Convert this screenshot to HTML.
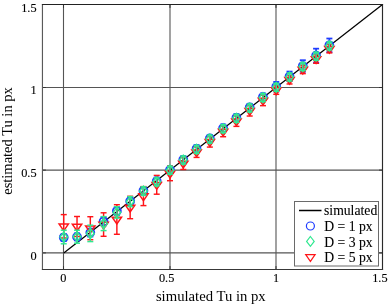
<!DOCTYPE html>
<html><head><meta charset="utf-8"><style>
html,body{margin:0;padding:0;background:#fff;overflow:hidden}
svg{display:block}
</style></head><body>
<svg width="388" height="304" viewBox="0 0 388 304" font-family="'Liberation Serif', 'Times New Roman', serif">
<rect width="388" height="304" fill="#fff"/>
<g stroke="#555555" stroke-width="1.1" fill="none"><line x1="63.5" y1="4.5" x2="63.5" y2="269.5"/><line x1="170" y1="4.5" x2="170" y2="269.5"/><line x1="276" y1="4.5" x2="276" y2="269.5"/><line x1="42.5" y1="252.9" x2="382.5" y2="252.9"/><line x1="42.5" y1="170.1" x2="382.5" y2="170.1"/><line x1="42.5" y1="87.5" x2="382.5" y2="87.5"/></g>
<g stroke="#333" stroke-width="1" fill="none"><line x1="63.5" y1="269.5" x2="63.5" y2="266.1"/><line x1="63.5" y1="4.5" x2="63.5" y2="7.9"/><line x1="170" y1="269.5" x2="170" y2="266.1"/><line x1="170" y1="4.5" x2="170" y2="7.9"/><line x1="276" y1="269.5" x2="276" y2="266.1"/><line x1="276" y1="4.5" x2="276" y2="7.9"/><line x1="382.5" y1="269.5" x2="382.5" y2="266.1"/><line x1="382.5" y1="4.5" x2="382.5" y2="7.9"/><line x1="42.5" y1="252.9" x2="45.9" y2="252.9"/><line x1="382.5" y1="252.9" x2="379.1" y2="252.9"/><line x1="42.5" y1="170.1" x2="45.9" y2="170.1"/><line x1="382.5" y1="170.1" x2="379.1" y2="170.1"/><line x1="42.5" y1="87.5" x2="45.9" y2="87.5"/><line x1="382.5" y1="87.5" x2="379.1" y2="87.5"/><line x1="42.5" y1="4.5" x2="45.9" y2="4.5"/><line x1="382.5" y1="4.5" x2="379.1" y2="4.5"/></g>
<line x1="63.75" y1="252.94" x2="382.5" y2="4.5" stroke="#000" stroke-width="1.25"/>
<g fill="none" stroke-width="1.45">
<g stroke="#1e3cff"><g stroke-width="1.75"><line x1="63.75" y1="234" x2="63.75" y2="241"/><line x1="60.75" y1="234" x2="66.75" y2="234"/><line x1="60.75" y1="241" x2="66.75" y2="241"/><circle cx="63.75" cy="237.5" r="4.0"/></g><g stroke-width="1.75"><line x1="77.03" y1="233.4" x2="77.03" y2="240.4"/><line x1="74.03" y1="233.4" x2="80.03" y2="233.4"/><line x1="74.03" y1="240.4" x2="80.03" y2="240.4"/><circle cx="77.03" cy="236.9" r="4.0"/></g><g stroke-width="1.75"><line x1="90.31" y1="228.6" x2="90.31" y2="236.6"/><line x1="87.31" y1="228.6" x2="93.31" y2="228.6"/><line x1="87.31" y1="236.6" x2="93.31" y2="236.6"/><circle cx="90.31" cy="232.6" r="4.0"/></g><g stroke-width="1.75"><line x1="103.59" y1="217.4" x2="103.59" y2="225.4"/><line x1="100.59" y1="217.4" x2="106.59" y2="217.4"/><line x1="100.59" y1="225.4" x2="106.59" y2="225.4"/><circle cx="103.59" cy="221.4" r="4.0"/></g><g stroke-width="1.75"><line x1="116.87" y1="207" x2="116.87" y2="215"/><line x1="113.87" y1="207" x2="119.87" y2="207"/><line x1="113.87" y1="215" x2="119.87" y2="215"/><circle cx="116.87" cy="211" r="4.0"/></g><g stroke-width="1.75"><line x1="130.16" y1="197.2" x2="130.16" y2="205.2"/><line x1="127.16" y1="197.2" x2="133.16" y2="197.2"/><line x1="127.16" y1="205.2" x2="133.16" y2="205.2"/><circle cx="130.16" cy="201.2" r="4.0"/></g><g stroke-width="1.75"><line x1="143.44" y1="187" x2="143.44" y2="194.6"/><line x1="140.44" y1="187" x2="146.44" y2="187"/><line x1="140.44" y1="194.6" x2="146.44" y2="194.6"/><circle cx="143.44" cy="190.8" r="4.0"/></g><g stroke-width="1.75"><line x1="156.72" y1="177.6" x2="156.72" y2="184.8"/><line x1="153.72" y1="177.6" x2="159.72" y2="177.6"/><line x1="153.72" y1="184.8" x2="159.72" y2="184.8"/><circle cx="156.72" cy="181.2" r="4.0"/></g><g stroke-width="1.75"><line x1="170" y1="166.4" x2="170" y2="173.6"/><line x1="167" y1="166.4" x2="173" y2="166.4"/><line x1="167" y1="173.6" x2="173" y2="173.6"/><circle cx="170" cy="170" r="4.0"/></g><g stroke-width="1.75"><line x1="183.28" y1="156.2" x2="183.28" y2="163.4"/><line x1="180.28" y1="156.2" x2="186.28" y2="156.2"/><line x1="180.28" y1="163.4" x2="186.28" y2="163.4"/><circle cx="183.28" cy="159.8" r="4.0"/></g><g stroke-width="1.75"><line x1="196.56" y1="145.22" x2="196.56" y2="152.42"/><line x1="193.56" y1="145.22" x2="199.56" y2="145.22"/><line x1="193.56" y1="152.42" x2="199.56" y2="152.42"/><circle cx="196.56" cy="148.82" r="4.0"/></g><g stroke-width="1.75"><line x1="209.84" y1="134.87" x2="209.84" y2="142.07"/><line x1="206.84" y1="134.87" x2="212.84" y2="134.87"/><line x1="206.84" y1="142.07" x2="212.84" y2="142.07"/><circle cx="209.84" cy="138.47" r="4.0"/></g><g stroke-width="1.75"><line x1="223.12" y1="124.52" x2="223.12" y2="131.72"/><line x1="220.12" y1="124.52" x2="226.12" y2="124.52"/><line x1="220.12" y1="131.72" x2="226.12" y2="131.72"/><circle cx="223.12" cy="128.12" r="4.0"/></g><g stroke-width="1.75"><line x1="236.41" y1="114.17" x2="236.41" y2="121.37"/><line x1="233.41" y1="114.17" x2="239.41" y2="114.17"/><line x1="233.41" y1="121.37" x2="239.41" y2="121.37"/><circle cx="236.41" cy="117.77" r="4.0"/></g><g stroke-width="1.75"><line x1="249.69" y1="103.82" x2="249.69" y2="111.02"/><line x1="246.69" y1="103.82" x2="252.69" y2="103.82"/><line x1="246.69" y1="111.02" x2="252.69" y2="111.02"/><circle cx="249.69" cy="107.42" r="4.0"/></g><g stroke-width="1.75"><line x1="262.97" y1="93.46" x2="262.97" y2="100.66"/><line x1="259.97" y1="93.46" x2="265.97" y2="93.46"/><line x1="259.97" y1="100.66" x2="265.97" y2="100.66"/><circle cx="262.97" cy="97.06" r="4.0"/></g><g stroke-width="1.75"><line x1="276.25" y1="81.91" x2="276.25" y2="91.51"/><line x1="273.25" y1="81.91" x2="279.25" y2="81.91"/><line x1="273.25" y1="91.51" x2="279.25" y2="91.51"/><circle cx="276.25" cy="86.71" r="4.0"/></g><g stroke-width="1.75"><line x1="289.53" y1="71.56" x2="289.53" y2="81.16"/><line x1="286.53" y1="71.56" x2="292.53" y2="71.56"/><line x1="286.53" y1="81.16" x2="292.53" y2="81.16"/><circle cx="289.53" cy="76.36" r="4.0"/></g><g stroke-width="1.75"><line x1="302.81" y1="60.21" x2="302.81" y2="71.81"/><line x1="299.81" y1="60.21" x2="305.81" y2="60.21"/><line x1="299.81" y1="71.81" x2="305.81" y2="71.81"/><circle cx="302.81" cy="66.01" r="4.0"/></g><g stroke-width="1.75"><line x1="316.09" y1="48.66" x2="316.09" y2="62.66"/><line x1="313.09" y1="48.66" x2="319.09" y2="48.66"/><line x1="313.09" y1="62.66" x2="319.09" y2="62.66"/><circle cx="316.09" cy="55.66" r="4.0"/></g><g stroke-width="1.75"><line x1="329.38" y1="38.51" x2="329.38" y2="52.11"/><line x1="326.38" y1="38.51" x2="332.38" y2="38.51"/><line x1="326.38" y1="52.11" x2="332.38" y2="52.11"/><circle cx="329.38" cy="45.31" r="4.0"/></g></g>
<g stroke="#ff1418"><line x1="63.75" y1="214.6" x2="63.75" y2="238"/><line x1="60.75" y1="214.6" x2="66.75" y2="214.6"/><line x1="60.75" y1="238" x2="66.75" y2="238"/><path d="M59.05 224L68.45 224L63.75 230.8Z"/><line x1="77.03" y1="216.5" x2="77.03" y2="236.5"/><line x1="74.03" y1="216.5" x2="80.03" y2="216.5"/><line x1="74.03" y1="236.5" x2="80.03" y2="236.5"/><path d="M72.33 224.2L81.73 224.2L77.03 231Z"/><line x1="90.31" y1="216.7" x2="90.31" y2="239.7"/><line x1="87.31" y1="216.7" x2="93.31" y2="216.7"/><line x1="87.31" y1="239.7" x2="93.31" y2="239.7"/><path d="M85.61 225.9L95.01 225.9L90.31 232.7Z"/><line x1="103.59" y1="212.8" x2="103.59" y2="236.3"/><line x1="100.59" y1="212.8" x2="106.59" y2="212.8"/><line x1="100.59" y1="236.3" x2="106.59" y2="236.3"/><path d="M98.89 222.25L108.29 222.25L103.59 229.05Z"/><line x1="116.87" y1="204.7" x2="116.87" y2="234.3"/><line x1="113.87" y1="204.7" x2="119.87" y2="204.7"/><line x1="113.87" y1="234.3" x2="119.87" y2="234.3"/><path d="M112.17 217.2L121.57 217.2L116.87 224Z"/><line x1="130.16" y1="196.3" x2="130.16" y2="218.7"/><line x1="127.16" y1="196.3" x2="133.16" y2="196.3"/><line x1="127.16" y1="218.7" x2="133.16" y2="218.7"/><path d="M125.46 205.2L134.86 205.2L130.16 212Z"/><line x1="143.44" y1="186.6" x2="143.44" y2="205.6"/><line x1="140.44" y1="186.6" x2="146.44" y2="186.6"/><line x1="140.44" y1="205.6" x2="146.44" y2="205.6"/><path d="M138.74 193.8L148.14 193.8L143.44 200.6Z"/><line x1="156.72" y1="175.4" x2="156.72" y2="194.2"/><line x1="153.72" y1="175.4" x2="159.72" y2="175.4"/><line x1="153.72" y1="194.2" x2="159.72" y2="194.2"/><path d="M152.02 182.5L161.42 182.5L156.72 189.3Z"/><line x1="170" y1="166.1" x2="170" y2="180.7"/><line x1="167" y1="166.1" x2="173" y2="166.1"/><line x1="167" y1="180.7" x2="173" y2="180.7"/><path d="M165.3 171.1L174.7 171.1L170 177.9Z"/><line x1="183.28" y1="157.5" x2="183.28" y2="169.5"/><line x1="180.28" y1="157.5" x2="186.28" y2="157.5"/><line x1="180.28" y1="169.5" x2="186.28" y2="169.5"/><path d="M178.58 161.2L187.98 161.2L183.28 168Z"/><line x1="196.56" y1="147.02" x2="196.56" y2="157.42"/><line x1="193.56" y1="147.02" x2="199.56" y2="147.02"/><line x1="193.56" y1="157.42" x2="199.56" y2="157.42"/><path d="M191.86 149.92L201.26 149.92L196.56 156.72Z"/><line x1="209.84" y1="136.67" x2="209.84" y2="147.07"/><line x1="206.84" y1="136.67" x2="212.84" y2="136.67"/><line x1="206.84" y1="147.07" x2="212.84" y2="147.07"/><path d="M205.14 139.57L214.54 139.57L209.84 146.37Z"/><line x1="223.12" y1="126.32" x2="223.12" y2="136.72"/><line x1="220.12" y1="126.32" x2="226.12" y2="126.32"/><line x1="220.12" y1="136.72" x2="226.12" y2="136.72"/><path d="M218.43 129.22L227.82 129.22L223.12 136.02Z"/><line x1="236.41" y1="115.97" x2="236.41" y2="126.37"/><line x1="233.41" y1="115.97" x2="239.41" y2="115.97"/><line x1="233.41" y1="126.37" x2="239.41" y2="126.37"/><path d="M231.71 118.87L241.11 118.87L236.41 125.67Z"/><line x1="249.69" y1="105.62" x2="249.69" y2="116.02"/><line x1="246.69" y1="105.62" x2="252.69" y2="105.62"/><line x1="246.69" y1="116.02" x2="252.69" y2="116.02"/><path d="M244.99 108.52L254.39 108.52L249.69 115.32Z"/><line x1="262.97" y1="95.26" x2="262.97" y2="105.66"/><line x1="259.97" y1="95.26" x2="265.97" y2="95.26"/><line x1="259.97" y1="105.66" x2="265.97" y2="105.66"/><path d="M258.27 98.16L267.67 98.16L262.97 104.96Z"/><line x1="276.25" y1="85.91" x2="276.25" y2="94.31"/><line x1="273.25" y1="85.91" x2="279.25" y2="85.91"/><line x1="273.25" y1="94.31" x2="279.25" y2="94.31"/><path d="M271.55 87.81L280.95 87.81L276.25 94.61Z"/><line x1="289.53" y1="75.56" x2="289.53" y2="83.96"/><line x1="286.53" y1="75.56" x2="292.53" y2="75.56"/><line x1="286.53" y1="83.96" x2="292.53" y2="83.96"/><path d="M284.83 77.46L294.23 77.46L289.53 84.26Z"/><line x1="302.81" y1="65.21" x2="302.81" y2="73.61"/><line x1="299.81" y1="65.21" x2="305.81" y2="65.21"/><line x1="299.81" y1="73.61" x2="305.81" y2="73.61"/><path d="M298.11 67.11L307.51 67.11L302.81 73.91Z"/><line x1="316.09" y1="54.86" x2="316.09" y2="63.26"/><line x1="313.09" y1="54.86" x2="319.09" y2="54.86"/><line x1="313.09" y1="63.26" x2="319.09" y2="63.26"/><path d="M311.39 56.76L320.79 56.76L316.09 63.56Z"/><line x1="329.38" y1="44.51" x2="329.38" y2="52.91"/><line x1="326.38" y1="44.51" x2="332.38" y2="44.51"/><line x1="326.38" y1="52.91" x2="332.38" y2="52.91"/><path d="M324.68 46.41L334.07 46.41L329.38 53.21Z"/></g>
<g stroke="#30e890"><line x1="63.75" y1="230.2" x2="63.75" y2="243.8"/><line x1="60.75" y1="230.2" x2="66.75" y2="230.2"/><line x1="60.75" y1="243.8" x2="66.75" y2="243.8"/><path d="M63.75 232.1L67.55 237L63.75 241.9L59.95 237Z"/><line x1="77.03" y1="230.2" x2="77.03" y2="243.2"/><line x1="74.03" y1="230.2" x2="80.03" y2="230.2"/><line x1="74.03" y1="243.2" x2="80.03" y2="243.2"/><path d="M77.03 231.8L80.83 236.7L77.03 241.6L73.23 236.7Z"/><line x1="90.31" y1="225.2" x2="90.31" y2="241.6"/><line x1="87.31" y1="225.2" x2="93.31" y2="225.2"/><line x1="87.31" y1="241.6" x2="93.31" y2="241.6"/><path d="M90.31 228.5L94.11 233.4L90.31 238.3L86.51 233.4Z"/><line x1="103.59" y1="216.6" x2="103.59" y2="230.6"/><line x1="100.59" y1="216.6" x2="106.59" y2="216.6"/><line x1="100.59" y1="230.6" x2="106.59" y2="230.6"/><path d="M103.59 218.7L107.39 223.6L103.59 228.5L99.79 223.6Z"/><line x1="116.87" y1="206.7" x2="116.87" y2="218.1"/><line x1="113.87" y1="206.7" x2="119.87" y2="206.7"/><line x1="113.87" y1="218.1" x2="119.87" y2="218.1"/><path d="M116.87 207.5L120.67 212.4L116.87 217.3L113.07 212.4Z"/><line x1="130.16" y1="196.6" x2="130.16" y2="206.6"/><line x1="127.16" y1="196.6" x2="133.16" y2="196.6"/><line x1="127.16" y1="206.6" x2="133.16" y2="206.6"/><path d="M130.16 196.7L133.96 201.6L130.16 206.5L126.36 201.6Z"/><line x1="143.44" y1="186.8" x2="143.44" y2="195.2"/><line x1="140.44" y1="186.8" x2="146.44" y2="186.8"/><line x1="140.44" y1="195.2" x2="146.44" y2="195.2"/><path d="M143.44 186.1L147.24 191L143.44 195.9L139.64 191Z"/><line x1="156.72" y1="177.8" x2="156.72" y2="185.8"/><line x1="153.72" y1="177.8" x2="159.72" y2="177.8"/><line x1="153.72" y1="185.8" x2="159.72" y2="185.8"/><path d="M156.72 176.9L160.52 181.8L156.72 186.7L152.92 181.8Z"/><line x1="170" y1="166.2" x2="170" y2="174.2"/><line x1="167" y1="166.2" x2="173" y2="166.2"/><line x1="167" y1="174.2" x2="173" y2="174.2"/><path d="M170 165.3L173.8 170.2L170 175.1L166.2 170.2Z"/><line x1="183.28" y1="156" x2="183.28" y2="164"/><line x1="180.28" y1="156" x2="186.28" y2="156"/><line x1="180.28" y1="164" x2="186.28" y2="164"/><path d="M183.28 155.1L187.08 160L183.28 164.9L179.48 160Z"/><line x1="196.56" y1="145.42" x2="196.56" y2="153.42"/><line x1="193.56" y1="145.42" x2="199.56" y2="145.42"/><line x1="193.56" y1="153.42" x2="199.56" y2="153.42"/><path d="M196.56 144.52L200.36 149.42L196.56 154.32L192.76 149.42Z"/><line x1="209.84" y1="135.07" x2="209.84" y2="143.07"/><line x1="206.84" y1="135.07" x2="212.84" y2="135.07"/><line x1="206.84" y1="143.07" x2="212.84" y2="143.07"/><path d="M209.84 134.17L213.64 139.07L209.84 143.97L206.04 139.07Z"/><line x1="223.12" y1="124.72" x2="223.12" y2="132.72"/><line x1="220.12" y1="124.72" x2="226.12" y2="124.72"/><line x1="220.12" y1="132.72" x2="226.12" y2="132.72"/><path d="M223.12 123.82L226.93 128.72L223.12 133.62L219.32 128.72Z"/><line x1="236.41" y1="114.37" x2="236.41" y2="122.37"/><line x1="233.41" y1="114.37" x2="239.41" y2="114.37"/><line x1="233.41" y1="122.37" x2="239.41" y2="122.37"/><path d="M236.41 113.47L240.21 118.37L236.41 123.27L232.61 118.37Z"/><line x1="249.69" y1="104.02" x2="249.69" y2="112.02"/><line x1="246.69" y1="104.02" x2="252.69" y2="104.02"/><line x1="246.69" y1="112.02" x2="252.69" y2="112.02"/><path d="M249.69 103.12L253.49 108.02L249.69 112.92L245.89 108.02Z"/><line x1="262.97" y1="93.66" x2="262.97" y2="101.66"/><line x1="259.97" y1="93.66" x2="265.97" y2="93.66"/><line x1="259.97" y1="101.66" x2="265.97" y2="101.66"/><path d="M262.97 92.76L266.77 97.66L262.97 102.56L259.17 97.66Z"/><line x1="276.25" y1="83.31" x2="276.25" y2="91.31"/><line x1="273.25" y1="83.31" x2="279.25" y2="83.31"/><line x1="273.25" y1="91.31" x2="279.25" y2="91.31"/><path d="M276.25 82.41L280.05 87.31L276.25 92.21L272.45 87.31Z"/><line x1="289.53" y1="72.96" x2="289.53" y2="80.96"/><line x1="286.53" y1="72.96" x2="292.53" y2="72.96"/><line x1="286.53" y1="80.96" x2="292.53" y2="80.96"/><path d="M289.53 72.06L293.33 76.96L289.53 81.86L285.73 76.96Z"/><line x1="302.81" y1="62.61" x2="302.81" y2="70.61"/><line x1="299.81" y1="62.61" x2="305.81" y2="62.61"/><line x1="299.81" y1="70.61" x2="305.81" y2="70.61"/><path d="M302.81 61.71L306.61 66.61L302.81 71.51L299.01 66.61Z"/><line x1="316.09" y1="52.26" x2="316.09" y2="60.26"/><line x1="313.09" y1="52.26" x2="319.09" y2="52.26"/><line x1="313.09" y1="60.26" x2="319.09" y2="60.26"/><path d="M316.09 51.36L319.89 56.26L316.09 61.16L312.29 56.26Z"/><line x1="329.38" y1="41.91" x2="329.38" y2="49.91"/><line x1="326.38" y1="41.91" x2="332.38" y2="41.91"/><line x1="326.38" y1="49.91" x2="332.38" y2="49.91"/><path d="M329.38 41.01L333.18 45.91L329.38 50.81L325.57 45.91Z"/></g>
</g>
<g fill="none" stroke-width="1.15" stroke-linecap="square">
<line x1="42.45" y1="4.5" x2="42.45" y2="269.5" stroke="#5a5a5a"/>
<line x1="382.5" y1="4.5" x2="382.5" y2="269.5" stroke="#2a2a2a"/>
<line x1="42.5" y1="4.5" x2="382.5" y2="4.5" stroke="#222"/>
<line x1="42.5" y1="269.5" x2="382.5" y2="269.5" stroke="#383838"/>
</g>
<g font-size="12.3" fill="#000" stroke="#000" stroke-width="0.12"><text x="36.6" y="259.94" text-anchor="end">0</text><text x="36.6" y="177.12" text-anchor="end">0.5</text><text x="36.6" y="94.31" text-anchor="end">1</text><text x="36.6" y="11.5" text-anchor="end">1.5</text><text x="63.3" y="282.2" text-anchor="middle">0</text><text x="166.6" y="282.2" text-anchor="middle">0.5</text><text x="276" y="282.2" text-anchor="middle">1</text><text x="379.9" y="282.2" text-anchor="middle">1.5</text></g>
<text x="210.8" y="301" font-size="14.7" text-anchor="middle">simulated Tu in px</text>
<text transform="translate(11.6,141) rotate(-90)" font-size="14.5" text-anchor="middle">estimated Tu in px</text>
<rect x="294.5" y="201.5" width="84.0" height="64.5" fill="#fff" stroke="#6a6a6a" stroke-width="1"/>
<line x1="299" y1="210.5" x2="321.5" y2="210.5" stroke="#000" stroke-width="1.5"/>
<g fill="none" stroke-width="1.2">
<g stroke="#1e3cff"><circle cx="310.4" cy="226" r="4.0"/></g>
<g stroke="#30e890"><path d="M310.4 236.5L314.2 241.4L310.4 246.3L306.6 241.4Z"/></g>
<g stroke="#ff1418"><path d="M305.7 254.6L315.1 254.6L310.4 261.4Z"/></g>
</g>
<g font-size="13.7" fill="#000" stroke="#000" stroke-width="0.1">
<text x="324" y="214.7">simulated</text>
<text x="324.3" y="230.9">D = 1 px</text>
<text x="324.3" y="246.5">D = 3 px</text>
<text x="324.3" y="261.9">D = 5 px</text>
</g>
</svg>
</body></html>
